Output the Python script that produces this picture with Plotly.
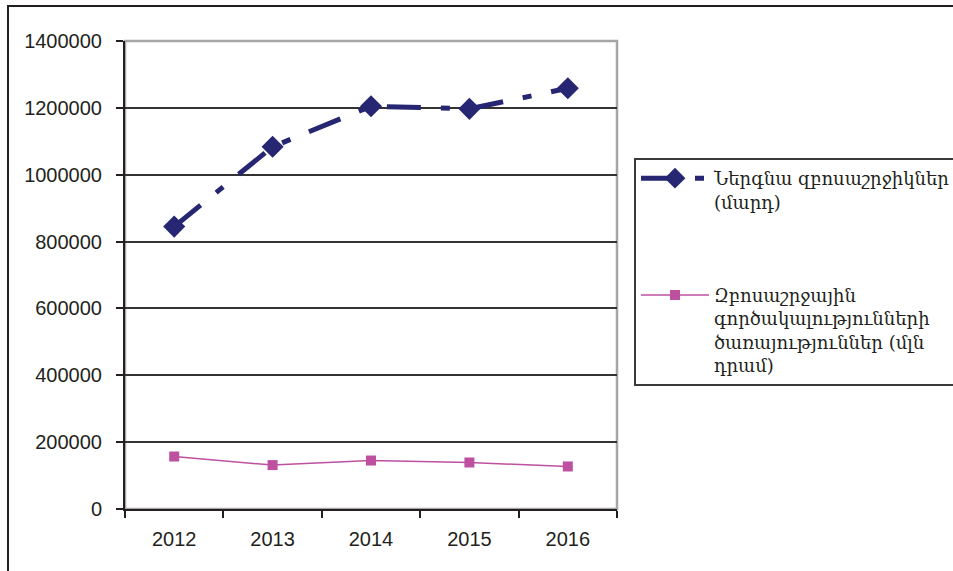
import plotly.graph_objects as go

years = ["2012", "2013", "2014", "2015", "2016"]
inbound_tourists = [844800, 1083600, 1204800, 1197000, 1258500]
agency_services = [157000, 131300, 145000, 139100, 127200]
y_ticks = [0, 200000, 400000, 600000, 800000, 1000000, 1200000, 1400000]

name1 = "Ներգնա զբոսաշրջիկներ<br>(մարդ)"
name2 = "Զբոսաշրջային<br>գործակալությունների<br>ծառայություններ (մլն<br>դրամ)"

navy = "#262673"
pink = "#BE50A0"
dark = "#231F20"

fig = go.Figure()
fig.add_trace(go.Scatter(
    x=years, y=inbound_tourists, name=name1, mode="lines+markers",
    line=dict(color=navy, width=5, dash="34px,20px,9px,20px"),
    marker=dict(symbol="diamond", size=17, color=navy),
    legendgroup="a",
))
fig.add_trace(go.Scatter(
    x=years, y=agency_services, name=name2, mode="lines+markers",
    line=dict(color=pink, width=1.5),
    marker=dict(symbol="square", size=10, color=pink),
    legendgroup="b",
))

W, H = 953, 571
L, R, T, B = 125, 617, 41, 509
pw, ph = R - L, B - T

def px2x(px):
    return (px - L) / pw

def py2y(py):
    return (B - py) / ph

shapes = [
    # plot area border (gray)
    dict(type="rect", xref="paper", yref="paper", x0=0, x1=1, y0=0, y1=1,
         line=dict(color="#A6A6A6", width=2.5), layer="below"),
    # outer chart frame
    dict(type="rect", xref="paper", yref="paper",
         x0=px2x(8), x1=px2x(1000), y0=py2y(620), y1=py2y(6),
         line=dict(color=dark, width=2), layer="below"),
]

fig.update_layout(
    width=W, height=H,
    margin=dict(l=L, r=W - R, t=T, b=H - B, pad=0, autoexpand=False),
    paper_bgcolor="white", plot_bgcolor="white",
    font=dict(family="Liberation Sans, Arial, sans-serif", size=20, color=dark),
    showlegend=True,
    legend=dict(
        x=px2x(634), y=py2y(158), xanchor="left", yanchor="top",
        bgcolor="white", bordercolor="#3a3a3a", borderwidth=2,
        font=dict(family="DejaVu Serif, serif", size=18, color=dark),
        tracegroupgap=67, valign="top", itemwidth=68,
    ),
    shapes=shapes,
    xaxis=dict(
        type="category", range=[-0.5, 4.5], showgrid=False,
        showline=True, linecolor=dark, linewidth=2,
        ticks="outside", ticklen=7, tickwidth=2, tickcolor=dark,
        tickson="boundaries", ticklabelstandoff=11,
        tickfont=dict(size=20, color=dark),
    ),
    yaxis=dict(
        range=[0, 1400000], tickvals=y_ticks, ticktext=[str(v) for v in y_ticks],
        showgrid=True, gridcolor="#333333", gridwidth=1.5,
        showline=True, linecolor=dark, linewidth=2,
        ticks="outside", ticklen=7, tickwidth=1.5, tickcolor=dark,
        ticklabelstandoff=10, zeroline=False,
        tickfont=dict(size=20, color=dark),
    ),
)

fig.write_html("out.html", config={"displayModeBar": False},
               post_script="document.body.style.margin='0';")
